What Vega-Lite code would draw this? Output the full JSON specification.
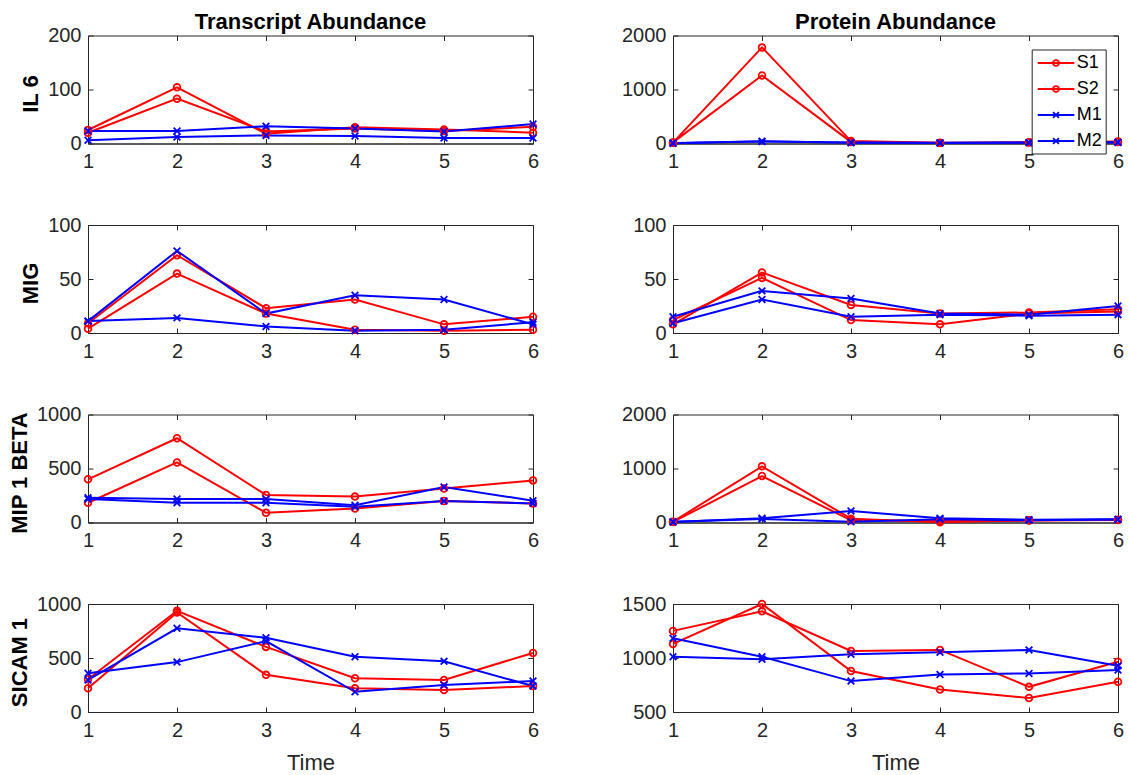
{
  "$schema": "https://vega.github.io/schema/vega-lite/v6.json",
  "background": "white",
  "padding": {"left": 7, "top": 9.5, "right": 5, "bottom": 0},
  "config": {
    "numberFormat": "d",
    "view": {"stroke": "#262626", "strokeWidth": 1},
    "axis": {"grid": false, "tickSize": -5, "tickColor": "#262626", "tickWidth": 1, "domainColor": "#262626", "domainWidth": 1, "labelFont": "Liberation Sans", "labelFontSize": 20, "labelColor": "#262626", "labelFlush": false, "labelOverlap": false, "titleFont": "Liberation Sans"},
    "axisX": {"labelPadding": 13},
    "axisY": {"labelPadding": 12},
    "axisLeft": {"titleFontSize": 22, "titleFontWeight": "bold", "titleColor": "#000000", "titleAngle": 270, "titleBaseline": "middle", "titleAlign": "center", "titleY": 58},
    "axisBottom": {"titleFontSize": 22, "titleFontWeight": "normal", "titleColor": "#262626", "titleY": 57, "titleBaseline": "alphabetic"},
    "title": {"font": "Liberation Sans", "fontSize": 22, "fontWeight": "bold", "color": "#000000", "offset": -8, "baseline": "alphabetic", "anchor": "middle", "frame": "group"},
    "legend": {"labelFont": "Liberation Sans", "labelFontSize": 18, "labelColor": "#000000", "symbolSize": 324, "labelOffset": 21.5, "rowPadding": 7, "padding": 3.5, "strokeColor": "#262626", "fillColor": "white", "symbolStrokeWidth": 1.8, "cornerRadius": 0}
  },
  "data": {"values": [
    {"g":"IL 6","k":"T","s":"S1","t":1,"v":25},{"g":"IL 6","k":"T","s":"S1","t":2,"v":104},{"g":"IL 6","k":"T","s":"S1","t":3,"v":18},{"g":"IL 6","k":"T","s":"S1","t":4,"v":30},{"g":"IL 6","k":"T","s":"S1","t":5,"v":26},{"g":"IL 6","k":"T","s":"S1","t":6,"v":20},
    {"g":"IL 6","k":"T","s":"S2","t":1,"v":20},{"g":"IL 6","k":"T","s":"S2","t":2,"v":83},{"g":"IL 6","k":"T","s":"S2","t":3,"v":22},{"g":"IL 6","k":"T","s":"S2","t":4,"v":28},{"g":"IL 6","k":"T","s":"S2","t":5,"v":23},{"g":"IL 6","k":"T","s":"S2","t":6,"v":31},
    {"g":"IL 6","k":"T","s":"M1","t":1,"v":23},{"g":"IL 6","k":"T","s":"M1","t":2,"v":23},{"g":"IL 6","k":"T","s":"M1","t":3,"v":32},{"g":"IL 6","k":"T","s":"M1","t":4,"v":28},{"g":"IL 6","k":"T","s":"M1","t":5,"v":22},{"g":"IL 6","k":"T","s":"M1","t":6,"v":36},
    {"g":"IL 6","k":"T","s":"M2","t":1,"v":6},{"g":"IL 6","k":"T","s":"M2","t":2,"v":12},{"g":"IL 6","k":"T","s":"M2","t":3,"v":15},{"g":"IL 6","k":"T","s":"M2","t":4,"v":14},{"g":"IL 6","k":"T","s":"M2","t":5,"v":10},{"g":"IL 6","k":"T","s":"M2","t":6,"v":10},
    {"g":"IL 6","k":"P","s":"S1","t":1,"v":15},{"g":"IL 6","k":"P","s":"S1","t":2,"v":1780},{"g":"IL 6","k":"P","s":"S1","t":3,"v":45},{"g":"IL 6","k":"P","s":"S1","t":4,"v":12},{"g":"IL 6","k":"P","s":"S1","t":5,"v":18},{"g":"IL 6","k":"P","s":"S1","t":6,"v":30},
    {"g":"IL 6","k":"P","s":"S2","t":1,"v":20},{"g":"IL 6","k":"P","s":"S2","t":2,"v":1260},{"g":"IL 6","k":"P","s":"S2","t":3,"v":30},{"g":"IL 6","k":"P","s":"S2","t":4,"v":8},{"g":"IL 6","k":"P","s":"S2","t":5,"v":22},{"g":"IL 6","k":"P","s":"S2","t":6,"v":35},
    {"g":"IL 6","k":"P","s":"M1","t":1,"v":5},{"g":"IL 6","k":"P","s":"M1","t":2,"v":40},{"g":"IL 6","k":"P","s":"M1","t":3,"v":15},{"g":"IL 6","k":"P","s":"M1","t":4,"v":10},{"g":"IL 6","k":"P","s":"M1","t":5,"v":12},{"g":"IL 6","k":"P","s":"M1","t":6,"v":20},
    {"g":"IL 6","k":"P","s":"M2","t":1,"v":8},{"g":"IL 6","k":"P","s":"M2","t":2,"v":35},{"g":"IL 6","k":"P","s":"M2","t":3,"v":20},{"g":"IL 6","k":"P","s":"M2","t":4,"v":15},{"g":"IL 6","k":"P","s":"M2","t":5,"v":18},{"g":"IL 6","k":"P","s":"M2","t":6,"v":25},
    {"g":"MIG","k":"T","s":"S1","t":1,"v":9},{"g":"MIG","k":"T","s":"S1","t":2,"v":72},{"g":"MIG","k":"T","s":"S1","t":3,"v":23},{"g":"MIG","k":"T","s":"S1","t":4,"v":31},{"g":"MIG","k":"T","s":"S1","t":5,"v":8},{"g":"MIG","k":"T","s":"S1","t":6,"v":15},
    {"g":"MIG","k":"T","s":"S2","t":1,"v":4},{"g":"MIG","k":"T","s":"S2","t":2,"v":55},{"g":"MIG","k":"T","s":"S2","t":3,"v":18},{"g":"MIG","k":"T","s":"S2","t":4,"v":3},{"g":"MIG","k":"T","s":"S2","t":5,"v":2},{"g":"MIG","k":"T","s":"S2","t":6,"v":3},
    {"g":"MIG","k":"T","s":"M1","t":1,"v":11},{"g":"MIG","k":"T","s":"M1","t":2,"v":76},{"g":"MIG","k":"T","s":"M1","t":3,"v":18},{"g":"MIG","k":"T","s":"M1","t":4,"v":35},{"g":"MIG","k":"T","s":"M1","t":5,"v":31},{"g":"MIG","k":"T","s":"M1","t":6,"v":8},
    {"g":"MIG","k":"T","s":"M2","t":1,"v":11},{"g":"MIG","k":"T","s":"M2","t":2,"v":14},{"g":"MIG","k":"T","s":"M2","t":3,"v":6},{"g":"MIG","k":"T","s":"M2","t":4,"v":2},{"g":"MIG","k":"T","s":"M2","t":5,"v":3},{"g":"MIG","k":"T","s":"M2","t":6,"v":10},
    {"g":"MIG","k":"P","s":"S1","t":1,"v":8},{"g":"MIG","k":"P","s":"S1","t":2,"v":56},{"g":"MIG","k":"P","s":"S1","t":3,"v":26},{"g":"MIG","k":"P","s":"S1","t":4,"v":18},{"g":"MIG","k":"P","s":"S1","t":5,"v":19},{"g":"MIG","k":"P","s":"S1","t":6,"v":22},
    {"g":"MIG","k":"P","s":"S2","t":1,"v":12},{"g":"MIG","k":"P","s":"S2","t":2,"v":51},{"g":"MIG","k":"P","s":"S2","t":3,"v":12},{"g":"MIG","k":"P","s":"S2","t":4,"v":8},{"g":"MIG","k":"P","s":"S2","t":5,"v":18},{"g":"MIG","k":"P","s":"S2","t":6,"v":20},
    {"g":"MIG","k":"P","s":"M1","t":1,"v":15},{"g":"MIG","k":"P","s":"M1","t":2,"v":39},{"g":"MIG","k":"P","s":"M1","t":3,"v":32},{"g":"MIG","k":"P","s":"M1","t":4,"v":18},{"g":"MIG","k":"P","s":"M1","t":5,"v":17},{"g":"MIG","k":"P","s":"M1","t":6,"v":25},
    {"g":"MIG","k":"P","s":"M2","t":1,"v":9},{"g":"MIG","k":"P","s":"M2","t":2,"v":31},{"g":"MIG","k":"P","s":"M2","t":3,"v":15},{"g":"MIG","k":"P","s":"M2","t":4,"v":17},{"g":"MIG","k":"P","s":"M2","t":5,"v":16},{"g":"MIG","k":"P","s":"M2","t":6,"v":17},
    {"g":"MIP 1 BETA","k":"T","s":"S1","t":1,"v":400},{"g":"MIP 1 BETA","k":"T","s":"S1","t":2,"v":780},{"g":"MIP 1 BETA","k":"T","s":"S1","t":3,"v":255},{"g":"MIP 1 BETA","k":"T","s":"S1","t":4,"v":240},{"g":"MIP 1 BETA","k":"T","s":"S1","t":5,"v":315},{"g":"MIP 1 BETA","k":"T","s":"S1","t":6,"v":390},
    {"g":"MIP 1 BETA","k":"T","s":"S2","t":1,"v":183},{"g":"MIP 1 BETA","k":"T","s":"S2","t":2,"v":556},{"g":"MIP 1 BETA","k":"T","s":"S2","t":3,"v":90},{"g":"MIP 1 BETA","k":"T","s":"S2","t":4,"v":130},{"g":"MIP 1 BETA","k":"T","s":"S2","t":5,"v":199},{"g":"MIP 1 BETA","k":"T","s":"S2","t":6,"v":177},
    {"g":"MIP 1 BETA","k":"T","s":"M1","t":1,"v":230},{"g":"MIP 1 BETA","k":"T","s":"M1","t":2,"v":217},{"g":"MIP 1 BETA","k":"T","s":"M1","t":3,"v":217},{"g":"MIP 1 BETA","k":"T","s":"M1","t":4,"v":160},{"g":"MIP 1 BETA","k":"T","s":"M1","t":5,"v":329},{"g":"MIP 1 BETA","k":"T","s":"M1","t":6,"v":202},
    {"g":"MIP 1 BETA","k":"T","s":"M2","t":1,"v":217},{"g":"MIP 1 BETA","k":"T","s":"M2","t":2,"v":183},{"g":"MIP 1 BETA","k":"T","s":"M2","t":3,"v":183},{"g":"MIP 1 BETA","k":"T","s":"M2","t":4,"v":146},{"g":"MIP 1 BETA","k":"T","s":"M2","t":5,"v":199},{"g":"MIP 1 BETA","k":"T","s":"M2","t":6,"v":177},
    {"g":"MIP 1 BETA","k":"P","s":"S1","t":1,"v":15},{"g":"MIP 1 BETA","k":"P","s":"S1","t":2,"v":1040},{"g":"MIP 1 BETA","k":"P","s":"S1","t":3,"v":70},{"g":"MIP 1 BETA","k":"P","s":"S1","t":4,"v":5},{"g":"MIP 1 BETA","k":"P","s":"S1","t":5,"v":40},{"g":"MIP 1 BETA","k":"P","s":"S1","t":6,"v":50},
    {"g":"MIP 1 BETA","k":"P","s":"S2","t":1,"v":10},{"g":"MIP 1 BETA","k":"P","s":"S2","t":2,"v":860},{"g":"MIP 1 BETA","k":"P","s":"S2","t":3,"v":40},{"g":"MIP 1 BETA","k":"P","s":"S2","t":4,"v":30},{"g":"MIP 1 BETA","k":"P","s":"S2","t":5,"v":35},{"g":"MIP 1 BETA","k":"P","s":"S2","t":6,"v":45},
    {"g":"MIP 1 BETA","k":"P","s":"M1","t":1,"v":10},{"g":"MIP 1 BETA","k":"P","s":"M1","t":2,"v":80},{"g":"MIP 1 BETA","k":"P","s":"M1","t":3,"v":215},{"g":"MIP 1 BETA","k":"P","s":"M1","t":4,"v":80},{"g":"MIP 1 BETA","k":"P","s":"M1","t":5,"v":50},{"g":"MIP 1 BETA","k":"P","s":"M1","t":6,"v":60},
    {"g":"MIP 1 BETA","k":"P","s":"M2","t":1,"v":12},{"g":"MIP 1 BETA","k":"P","s":"M2","t":2,"v":65},{"g":"MIP 1 BETA","k":"P","s":"M2","t":3,"v":15},{"g":"MIP 1 BETA","k":"P","s":"M2","t":4,"v":60},{"g":"MIP 1 BETA","k":"P","s":"M2","t":5,"v":40},{"g":"MIP 1 BETA","k":"P","s":"M2","t":6,"v":55},
    {"g":"SICAM 1","k":"T","s":"S1","t":1,"v":303},{"g":"SICAM 1","k":"T","s":"S1","t":2,"v":937},{"g":"SICAM 1","k":"T","s":"S1","t":3,"v":603},{"g":"SICAM 1","k":"T","s":"S1","t":4,"v":312},{"g":"SICAM 1","k":"T","s":"S1","t":5,"v":297},{"g":"SICAM 1","k":"T","s":"S1","t":6,"v":547},
    {"g":"SICAM 1","k":"T","s":"S2","t":1,"v":219},{"g":"SICAM 1","k":"T","s":"S2","t":2,"v":922},{"g":"SICAM 1","k":"T","s":"S2","t":3,"v":344},{"g":"SICAM 1","k":"T","s":"S2","t":4,"v":219},{"g":"SICAM 1","k":"T","s":"S2","t":5,"v":203},{"g":"SICAM 1","k":"T","s":"S2","t":6,"v":240},
    {"g":"SICAM 1","k":"T","s":"M1","t":1,"v":297},{"g":"SICAM 1","k":"T","s":"M1","t":2,"v":775},{"g":"SICAM 1","k":"T","s":"M1","t":3,"v":687},{"g":"SICAM 1","k":"T","s":"M1","t":4,"v":512},{"g":"SICAM 1","k":"T","s":"M1","t":5,"v":469},{"g":"SICAM 1","k":"T","s":"M1","t":6,"v":240},
    {"g":"SICAM 1","k":"T","s":"M2","t":1,"v":359},{"g":"SICAM 1","k":"T","s":"M2","t":2,"v":462},{"g":"SICAM 1","k":"T","s":"M2","t":3,"v":656},{"g":"SICAM 1","k":"T","s":"M2","t":4,"v":187},{"g":"SICAM 1","k":"T","s":"M2","t":5,"v":250},{"g":"SICAM 1","k":"T","s":"M2","t":6,"v":287},
    {"g":"SICAM 1","k":"P","s":"S1","t":1,"v":1251},{"g":"SICAM 1","k":"P","s":"S1","t":2,"v":1432},{"g":"SICAM 1","k":"P","s":"S1","t":3,"v":1065},{"g":"SICAM 1","k":"P","s":"S1","t":4,"v":1075},{"g":"SICAM 1","k":"P","s":"S1","t":5,"v":733},{"g":"SICAM 1","k":"P","s":"S1","t":6,"v":966},
    {"g":"SICAM 1","k":"P","s":"S2","t":1,"v":1130},{"g":"SICAM 1","k":"P","s":"S2","t":2,"v":1500},{"g":"SICAM 1","k":"P","s":"S2","t":3,"v":879},{"g":"SICAM 1","k":"P","s":"S2","t":4,"v":708},{"g":"SICAM 1","k":"P","s":"S2","t":5,"v":630},{"g":"SICAM 1","k":"P","s":"S2","t":6,"v":780},
    {"g":"SICAM 1","k":"P","s":"M1","t":1,"v":1183},{"g":"SICAM 1","k":"P","s":"M1","t":2,"v":1012},{"g":"SICAM 1","k":"P","s":"M1","t":3,"v":786},{"g":"SICAM 1","k":"P","s":"M1","t":4,"v":848},{"g":"SICAM 1","k":"P","s":"M1","t":5,"v":857},{"g":"SICAM 1","k":"P","s":"M1","t":6,"v":888},
    {"g":"SICAM 1","k":"P","s":"M2","t":1,"v":1012},{"g":"SICAM 1","k":"P","s":"M2","t":2,"v":988},{"g":"SICAM 1","k":"P","s":"M2","t":3,"v":1034},{"g":"SICAM 1","k":"P","s":"M2","t":4,"v":1053},{"g":"SICAM 1","k":"P","s":"M2","t":5,"v":1075},{"g":"SICAM 1","k":"P","s":"M2","t":6,"v":929}
  ]},
  "columns": 2,
  "spacing": {"row": 81.5, "column": 140},
  "bounds": "flush",
  "concat": [
    {
      "width": 445, "height": 108,
      "title": {"text": "Transcript Abundance"},
      "transform": [{"filter": "datum.g === 'IL 6' && datum.k === 'T'"}],
      "layer": [
        {"mark": {"type": "line", "strokeWidth": 2},
         "encoding": {
           "x": {"field": "t", "type": "quantitative", "scale": {"domain": [1, 6]}, "axis": {"values": [1,2,3,4,5,6], "title": null}},
           "y": {"field": "v", "type": "quantitative", "scale": {"domain": [0, 200]}, "axis": {"values": [0,100,200], "title": "IL 6", "titleX": -58}},
           "color": {"field": "s", "type": "nominal", "scale": {"domain": ["S1","S2","M1","M2"], "range": ["#ff0000","#ff0000","#0000ff","#0000ff"]},
             "legend": {"orient": "none", "legendX": 943.7, "legendY": 14, "title": null,
               "encoding": {"symbols": {
                 "shape": {"condition": {"test": "datum.value === 'S1' || datum.value === 'S2'", "value": "M-0.83,0L3.24,0M0.87,0A0.33,0.33 0 1,1 1.53,0A0.33,0.33 0 1,1 0.87,0"}, "value": "M-0.83,0L3.24,0M0.87,-0.33L1.53,0.33M0.87,0.33L1.53,-0.33"},
                 "fill": {"value": "transparent"},
                 "strokeWidth": {"value": 1.8},
                 "opacity": {"value": 1}}}}}}},
        {"mark": {"type": "point", "filled": false, "strokeWidth": 1.8, "size": 45, "opacity": 1},
         "encoding": {
           "x": {"field": "t", "type": "quantitative", "scale": {"domain": [1, 6]}, "axis": {"orient": "top", "values": [1,2,3,4,5,6], "labels": false, "domain": false, "title": null}},
           "y": {"field": "v", "type": "quantitative", "scale": {"domain": [0, 200]}, "axis": {"orient": "right", "values": [0,100,200], "labels": false, "domain": false, "title": null}},
           "color": {"field": "s", "type": "nominal", "scale": {"domain": ["S1","S2","M1","M2"], "range": ["#ff0000","#ff0000","#0000ff","#0000ff"]}},
           "shape": {"condition": {"test": "datum.s === 'S1' || datum.s === 'S2'", "value": "circle"}, "value": "M-1,-1L1,1M-1,1L1,-1"}}}
      ],
      "resolve": {"axis": {"x": "independent", "y": "independent"}}
    },
    {
      "width": 445, "height": 108,
      "title": {"text": "Protein Abundance"},
      "transform": [{"filter": "datum.g === 'IL 6' && datum.k === 'P'"}],
      "layer": [
        {"mark": {"type": "line", "strokeWidth": 2},
         "encoding": {
           "x": {"field": "t", "type": "quantitative", "scale": {"domain": [1, 6]}, "axis": {"values": [1,2,3,4,5,6], "title": null}},
           "y": {"field": "v", "type": "quantitative", "scale": {"domain": [0, 2000]}, "axis": {"values": [0,1000,2000], "title": null}},
           "color": {"field": "s", "type": "nominal", "scale": {"domain": ["S1","S2","M1","M2"], "range": ["#ff0000","#ff0000","#0000ff","#0000ff"]}}}},
        {"mark": {"type": "point", "filled": false, "strokeWidth": 1.8, "size": 45, "opacity": 1},
         "encoding": {
           "x": {"field": "t", "type": "quantitative", "scale": {"domain": [1, 6]}, "axis": {"orient": "top", "values": [1,2,3,4,5,6], "labels": false, "domain": false, "title": null}},
           "y": {"field": "v", "type": "quantitative", "scale": {"domain": [0, 2000]}, "axis": {"orient": "right", "values": [0,1000,2000], "labels": false, "domain": false, "title": null}},
           "color": {"field": "s", "type": "nominal", "scale": {"domain": ["S1","S2","M1","M2"], "range": ["#ff0000","#ff0000","#0000ff","#0000ff"]}},
           "shape": {"condition": {"test": "datum.s === 'S1' || datum.s === 'S2'", "value": "circle"}, "value": "M-1,-1L1,1M-1,1L1,-1"}}}
      ],
      "resolve": {"axis": {"x": "independent", "y": "independent"}}
    },
    {
      "width": 445, "height": 108,
      "transform": [{"filter": "datum.g === 'MIG' && datum.k === 'T'"}],
      "layer": [
        {"mark": {"type": "line", "strokeWidth": 2},
         "encoding": {
           "x": {"field": "t", "type": "quantitative", "scale": {"domain": [1, 6]}, "axis": {"values": [1,2,3,4,5,6], "title": null}},
           "y": {"field": "v", "type": "quantitative", "scale": {"domain": [0, 100]}, "axis": {"values": [0,50,100], "title": "MIG", "titleX": -58}},
           "color": {"field": "s", "type": "nominal", "scale": {"domain": ["S1","S2","M1","M2"], "range": ["#ff0000","#ff0000","#0000ff","#0000ff"]}}}},
        {"mark": {"type": "point", "filled": false, "strokeWidth": 1.8, "size": 45, "opacity": 1},
         "encoding": {
           "x": {"field": "t", "type": "quantitative", "scale": {"domain": [1, 6]}, "axis": {"orient": "top", "values": [1,2,3,4,5,6], "labels": false, "domain": false, "title": null}},
           "y": {"field": "v", "type": "quantitative", "scale": {"domain": [0, 100]}, "axis": {"orient": "right", "values": [0,50,100], "labels": false, "domain": false, "title": null}},
           "color": {"field": "s", "type": "nominal", "scale": {"domain": ["S1","S2","M1","M2"], "range": ["#ff0000","#ff0000","#0000ff","#0000ff"]}},
           "shape": {"condition": {"test": "datum.s === 'S1' || datum.s === 'S2'", "value": "circle"}, "value": "M-1,-1L1,1M-1,1L1,-1"}}}
      ],
      "resolve": {"axis": {"x": "independent", "y": "independent"}}
    },
    {
      "width": 445, "height": 108,
      "transform": [{"filter": "datum.g === 'MIG' && datum.k === 'P'"}],
      "layer": [
        {"mark": {"type": "line", "strokeWidth": 2},
         "encoding": {
           "x": {"field": "t", "type": "quantitative", "scale": {"domain": [1, 6]}, "axis": {"values": [1,2,3,4,5,6], "title": null}},
           "y": {"field": "v", "type": "quantitative", "scale": {"domain": [0, 100]}, "axis": {"values": [0,50,100], "title": null}},
           "color": {"field": "s", "type": "nominal", "scale": {"domain": ["S1","S2","M1","M2"], "range": ["#ff0000","#ff0000","#0000ff","#0000ff"]}}}},
        {"mark": {"type": "point", "filled": false, "strokeWidth": 1.8, "size": 45, "opacity": 1},
         "encoding": {
           "x": {"field": "t", "type": "quantitative", "scale": {"domain": [1, 6]}, "axis": {"orient": "top", "values": [1,2,3,4,5,6], "labels": false, "domain": false, "title": null}},
           "y": {"field": "v", "type": "quantitative", "scale": {"domain": [0, 100]}, "axis": {"orient": "right", "values": [0,50,100], "labels": false, "domain": false, "title": null}},
           "color": {"field": "s", "type": "nominal", "scale": {"domain": ["S1","S2","M1","M2"], "range": ["#ff0000","#ff0000","#0000ff","#0000ff"]}},
           "shape": {"condition": {"test": "datum.s === 'S1' || datum.s === 'S2'", "value": "circle"}, "value": "M-1,-1L1,1M-1,1L1,-1"}}}
      ],
      "resolve": {"axis": {"x": "independent", "y": "independent"}}
    },
    {
      "width": 445, "height": 108,
      "transform": [{"filter": "datum.g === 'MIP 1 BETA' && datum.k === 'T'"}],
      "layer": [
        {"mark": {"type": "line", "strokeWidth": 2},
         "encoding": {
           "x": {"field": "t", "type": "quantitative", "scale": {"domain": [1, 6]}, "axis": {"values": [1,2,3,4,5,6], "title": null}},
           "y": {"field": "v", "type": "quantitative", "scale": {"domain": [0, 1000]}, "axis": {"values": [0,500,1000], "title": "MIP 1 BETA", "titleX": -69}},
           "color": {"field": "s", "type": "nominal", "scale": {"domain": ["S1","S2","M1","M2"], "range": ["#ff0000","#ff0000","#0000ff","#0000ff"]}}}},
        {"mark": {"type": "point", "filled": false, "strokeWidth": 1.8, "size": 45, "opacity": 1},
         "encoding": {
           "x": {"field": "t", "type": "quantitative", "scale": {"domain": [1, 6]}, "axis": {"orient": "top", "values": [1,2,3,4,5,6], "labels": false, "domain": false, "title": null}},
           "y": {"field": "v", "type": "quantitative", "scale": {"domain": [0, 1000]}, "axis": {"orient": "right", "values": [0,500,1000], "labels": false, "domain": false, "title": null}},
           "color": {"field": "s", "type": "nominal", "scale": {"domain": ["S1","S2","M1","M2"], "range": ["#ff0000","#ff0000","#0000ff","#0000ff"]}},
           "shape": {"condition": {"test": "datum.s === 'S1' || datum.s === 'S2'", "value": "circle"}, "value": "M-1,-1L1,1M-1,1L1,-1"}}}
      ],
      "resolve": {"axis": {"x": "independent", "y": "independent"}}
    },
    {
      "width": 445, "height": 108,
      "transform": [{"filter": "datum.g === 'MIP 1 BETA' && datum.k === 'P'"}],
      "layer": [
        {"mark": {"type": "line", "strokeWidth": 2},
         "encoding": {
           "x": {"field": "t", "type": "quantitative", "scale": {"domain": [1, 6]}, "axis": {"values": [1,2,3,4,5,6], "title": null}},
           "y": {"field": "v", "type": "quantitative", "scale": {"domain": [0, 2000]}, "axis": {"values": [0,1000,2000], "title": null}},
           "color": {"field": "s", "type": "nominal", "scale": {"domain": ["S1","S2","M1","M2"], "range": ["#ff0000","#ff0000","#0000ff","#0000ff"]}}}},
        {"mark": {"type": "point", "filled": false, "strokeWidth": 1.8, "size": 45, "opacity": 1},
         "encoding": {
           "x": {"field": "t", "type": "quantitative", "scale": {"domain": [1, 6]}, "axis": {"orient": "top", "values": [1,2,3,4,5,6], "labels": false, "domain": false, "title": null}},
           "y": {"field": "v", "type": "quantitative", "scale": {"domain": [0, 2000]}, "axis": {"orient": "right", "values": [0,1000,2000], "labels": false, "domain": false, "title": null}},
           "color": {"field": "s", "type": "nominal", "scale": {"domain": ["S1","S2","M1","M2"], "range": ["#ff0000","#ff0000","#0000ff","#0000ff"]}},
           "shape": {"condition": {"test": "datum.s === 'S1' || datum.s === 'S2'", "value": "circle"}, "value": "M-1,-1L1,1M-1,1L1,-1"}}}
      ],
      "resolve": {"axis": {"x": "independent", "y": "independent"}}
    },
    {
      "width": 445, "height": 108,
      "transform": [{"filter": "datum.g === 'SICAM 1' && datum.k === 'T'"}],
      "layer": [
        {"mark": {"type": "line", "strokeWidth": 2},
         "encoding": {
           "x": {"field": "t", "type": "quantitative", "scale": {"domain": [1, 6]}, "axis": {"values": [1,2,3,4,5,6], "title": "Time"}},
           "y": {"field": "v", "type": "quantitative", "scale": {"domain": [0, 1000]}, "axis": {"values": [0,500,1000], "title": "SICAM 1", "titleX": -69}},
           "color": {"field": "s", "type": "nominal", "scale": {"domain": ["S1","S2","M1","M2"], "range": ["#ff0000","#ff0000","#0000ff","#0000ff"]}}}},
        {"mark": {"type": "point", "filled": false, "strokeWidth": 1.8, "size": 45, "opacity": 1},
         "encoding": {
           "x": {"field": "t", "type": "quantitative", "scale": {"domain": [1, 6]}, "axis": {"orient": "top", "values": [1,2,3,4,5,6], "labels": false, "domain": false, "title": null}},
           "y": {"field": "v", "type": "quantitative", "scale": {"domain": [0, 1000]}, "axis": {"orient": "right", "values": [0,500,1000], "labels": false, "domain": false, "title": null}},
           "color": {"field": "s", "type": "nominal", "scale": {"domain": ["S1","S2","M1","M2"], "range": ["#ff0000","#ff0000","#0000ff","#0000ff"]}},
           "shape": {"condition": {"test": "datum.s === 'S1' || datum.s === 'S2'", "value": "circle"}, "value": "M-1,-1L1,1M-1,1L1,-1"}}}
      ],
      "resolve": {"axis": {"x": "independent", "y": "independent"}}
    },
    {
      "width": 445, "height": 108,
      "transform": [{"filter": "datum.g === 'SICAM 1' && datum.k === 'P'"}],
      "layer": [
        {"mark": {"type": "line", "strokeWidth": 2},
         "encoding": {
           "x": {"field": "t", "type": "quantitative", "scale": {"domain": [1, 6]}, "axis": {"values": [1,2,3,4,5,6], "title": "Time"}},
           "y": {"field": "v", "type": "quantitative", "scale": {"domain": [500, 1500]}, "axis": {"values": [500,1000,1500], "title": null}},
           "color": {"field": "s", "type": "nominal", "scale": {"domain": ["S1","S2","M1","M2"], "range": ["#ff0000","#ff0000","#0000ff","#0000ff"]}}}},
        {"mark": {"type": "point", "filled": false, "strokeWidth": 1.8, "size": 45, "opacity": 1},
         "encoding": {
           "x": {"field": "t", "type": "quantitative", "scale": {"domain": [1, 6]}, "axis": {"orient": "top", "values": [1,2,3,4,5,6], "labels": false, "domain": false, "title": null}},
           "y": {"field": "v", "type": "quantitative", "scale": {"domain": [500, 1500]}, "axis": {"orient": "right", "values": [500,1000,1500], "labels": false, "domain": false, "title": null}},
           "color": {"field": "s", "type": "nominal", "scale": {"domain": ["S1","S2","M1","M2"], "range": ["#ff0000","#ff0000","#0000ff","#0000ff"]}},
           "shape": {"condition": {"test": "datum.s === 'S1' || datum.s === 'S2'", "value": "circle"}, "value": "M-1,-1L1,1M-1,1L1,-1"}}}
      ],
      "resolve": {"axis": {"x": "independent", "y": "independent"}}
    }
  ]
}
